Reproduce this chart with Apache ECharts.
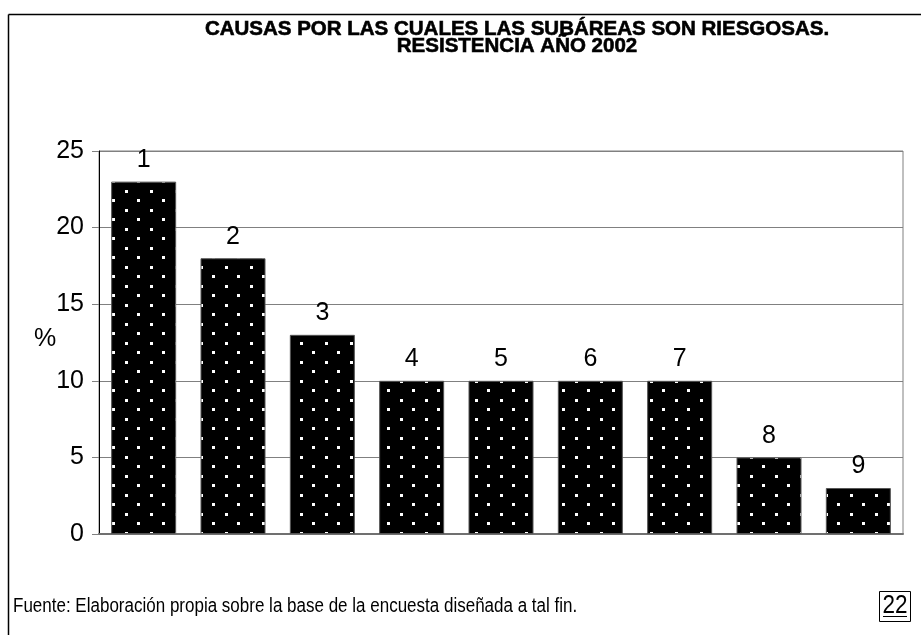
<!DOCTYPE html>
<html>
<head>
<meta charset="utf-8">
<title>Causas por las cuales las subáreas son riesgosas</title>
<script src="https://cdn.jsdelivr.net/npm/echarts@6/dist/echarts.min.js"></script>
<style>
  html, body { margin: 0; padding: 0; background: #fff; }
  #chart { width: 921px; height: 635px; }
</style>
</head>
<body>
<div id="chart"></div>
<script>
// Causes (numbered 1-9) and their share in percent
const causes = ['1', '2', '3', '4', '5', '6', '7', '8', '9'];
const percentages = [23, 18, 13, 10, 10, 10, 10, 5, 3];
const yTicks = { min: 0, max: 25, interval: 5 };

const titleLines = ['CAUSAS POR LAS CUALES LAS SUBÁREAS SON RIESGOSAS.', 'RESISTENCIA AÑO 2002'];
const sourceNote = 'Fuente: Elaboración propia sobre la base de la encuesta diseñada a tal fin.';
const pageNumber = '22';

// Black fill with a staggered grid of small white dots
function dotPattern() {
  const c = document.createElement('canvas');
  c.width = 25; c.height = 19;
  const g = c.getContext('2d');
  g.fillStyle = '#000';
  g.fillRect(0, 0, 25, 19);
  g.fillStyle = '#fff';
  g.fillRect(0, 0, 3, 3);
  g.fillRect(12, 9, 3, 3);
  return c;
}

const font = 'Liberation Sans, Arial, sans-serif';
const chart = echarts.init(document.getElementById('chart'), null, { renderer: 'canvas' });

chart.setOption({
  backgroundColor: '#fff',
  animation: false,
  grid: {
    left: 99, right: 18, top: 151, bottom: 101,
    show: true, borderColor: '#808080', borderWidth: 1, backgroundColor: 'transparent'
  },
  xAxis: {
    type: 'category',
    data: causes,
    axisLine: { show: true, lineStyle: { color: '#707070', width: 2 } },
    axisTick: { show: false },
    axisLabel: { show: false }
  },
  yAxis: {
    type: 'value',
    min: yTicks.min, max: yTicks.max, interval: yTicks.interval,
    axisLine: { show: true, lineStyle: { color: '#000', width: 1 } },
    axisTick: { show: true, length: 7, lineStyle: { color: '#808080' } },
    splitLine: { show: true, lineStyle: { color: '#808080', width: 1 } },
    axisLabel: { color: '#000', fontFamily: font, fontSize: 25, margin: 15 }
  },
  series: [{
    type: 'bar',
    data: percentages,
    barWidth: 65,
    itemStyle: {
      color: { image: dotPattern(), repeat: 'repeat' },
      borderColor: '#555',
      borderWidth: 1
    },
    label: {
      show: true,
      position: 'top',
      distance: 9,
      formatter: '{b}',
      color: '#000',
      fontFamily: font,
      fontSize: 25
    }
  }],
  graphic: [
    // page frame (top and left edges)
    { type: 'line', shape: { x1: 8.5, y1: 14.5, x2: 921, y2: 14.5 }, style: { stroke: '#000', lineWidth: 1.5 } },
    { type: 'line', shape: { x1: 8.5, y1: 14.5, x2: 8.5, y2: 635 }, style: { stroke: '#000', lineWidth: 1.5 } },
    // two-line heading
    { type: 'text', x: 517, y: 29, style: { text: titleLines[0], font: 'bold 20.5px ' + font, fill: '#000', align: 'center', verticalAlign: 'middle', stroke: '#000', lineWidth: 0.6 } },
    { type: 'text', x: 517, y: 46, style: { text: titleLines[1], font: 'bold 20.5px ' + font, fill: '#000', align: 'center', verticalAlign: 'middle', stroke: '#000', lineWidth: 0.6 } },
    // y-axis name
    { type: 'text', x: 34, y: 339, style: { text: '%', font: '25px ' + font, fill: '#000', verticalAlign: 'middle' } },
    // source note
    { type: 'text', x: 13, y: 606, scaleX: 0.85, style: { text: sourceNote, font: '20px ' + font, fill: '#000', verticalAlign: 'middle' } },
    // page number box
    { type: 'rect', shape: { x: 879.5, y: 591.5, width: 31, height: 30 }, style: { fill: '#fff', stroke: '#000', lineWidth: 1 } },
    { type: 'text', x: 895, y: 606, scaleX: 0.9, style: { text: pageNumber, font: '25px ' + font, fill: '#000', align: 'center', verticalAlign: 'middle' } },
    { type: 'line', shape: { x1: 883, y1: 616.5, x2: 907, y2: 616.5 }, style: { stroke: '#000', lineWidth: 1 } }
  ]
});
</script>
</body>
</html>
